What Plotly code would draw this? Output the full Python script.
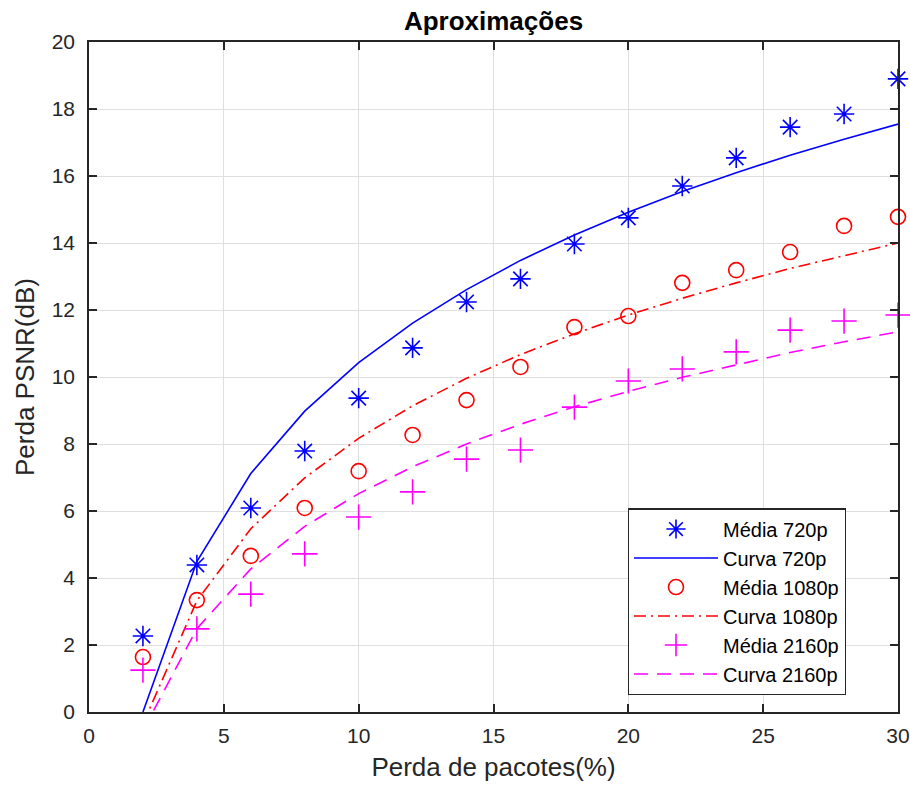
import plotly.graph_objects as go

x_pts = [2, 4, 6, 8, 10, 12, 14, 16, 18, 20, 22, 24, 26, 28, 30]

media_720 = [2.27, 4.39, 6.09, 7.79, 9.37, 10.87, 12.24, 12.93, 13.97, 14.75, 15.70, 16.54, 17.46, 17.85, 18.90]
curva_720 = [0.0, 4.49, 7.12, 8.98, 10.43, 11.61, 12.61, 13.48, 14.24, 14.92, 15.54, 16.10, 16.62, 17.10, 17.55]

media_1080 = [1.64, 3.34, 4.66, 6.09, 7.19, 8.27, 9.31, 10.30, 11.49, 11.82, 12.81, 13.19, 13.73, 14.51, 14.78]
curva_1080 = [-0.36, 3.32, 5.47, 6.99, 8.17, 9.14, 9.96, 10.67, 11.29, 11.85, 12.35, 12.81, 13.24, 13.63, 14.0]

media_2160 = [1.25, 2.48, 3.52, 4.72, 5.82, 6.57, 7.55, 7.82, 9.10, 9.88, 10.24, 10.75, 11.40, 11.67, 11.85]
curva_2160 = [-0.56, 2.49, 4.27, 5.54, 6.52, 7.32, 8.00, 8.59, 9.11, 9.57, 9.99, 10.37, 10.73, 11.05, 11.35]

x_ticks = [0, 5, 10, 15, 20, 25, 30]
y_ticks = [0, 2, 4, 6, 8, 10, 12, 14, 16, 18, 20]

FONT = "Liberation Sans, Arial, sans-serif"
DARK = "#262626"

fig = go.Figure()
fig.add_trace(go.Scatter(x=x_pts, y=media_720, mode="markers", name="Média 720p",
                         marker=dict(symbol="asterisk-open", size=17, color="#0000ff",
                                     line=dict(width=1.6, color="#0000ff")),
                         cliponaxis=False))
fig.add_trace(go.Scatter(x=x_pts, y=curva_720, mode="lines", name="Curva 720p",
                         line=dict(color="#0000ff", width=1.6)))
fig.add_trace(go.Scatter(x=x_pts, y=media_1080, mode="markers", name="Média 1080p",
                         marker=dict(symbol="circle-open", size=15, color="#ff0000",
                                     line=dict(width=1.6, color="#ff0000")),
                         cliponaxis=False))
fig.add_trace(go.Scatter(x=x_pts, y=curva_1080, mode="lines", name="Curva 1080p",
                         line=dict(color="#ff0000", width=1.6, dash="12px,5px,2px,5px")))
fig.add_trace(go.Scatter(x=x_pts, y=media_2160, mode="markers", name="Média 2160p",
                         marker=dict(symbol="cross-thin-open", size=18, color="#ff00ff",
                                     line=dict(width=1.6, color="#ff00ff")),
                         cliponaxis=False))
fig.add_trace(go.Scatter(x=x_pts, y=curva_2160, mode="lines", name="Curva 2160p",
                         line=dict(color="#ff00ff", width=1.6, dash="14px,9px")))

axis_common = dict(showgrid=True, gridcolor="#dfdfdf", gridwidth=1,
                   showline=True, linecolor=DARK, linewidth=1.5, mirror="ticks",
                   ticks="inside", ticklen=8, tickwidth=1.5, tickcolor=DARK,
                   zeroline=False, automargin=False,
                   tickfont=dict(family=FONT, size=21, color=DARK))

fig.update_xaxes(range=[0, 30], tickvals=x_ticks, ticklabelstandoff=4, **axis_common,
                 title=dict(text="Perda de pacotes(%)", standoff=12,
                            font=dict(family=FONT, size=26, color=DARK)))
fig.update_yaxes(range=[0, 20], tickvals=y_ticks, ticklabelstandoff=8, **axis_common,
                 title=dict(text="Perda PSNR(dB)", standoff=10,
                            font=dict(family=FONT, size=26, color=DARK)))

fig.update_layout(
    width=910, height=790,
    margin=dict(l=89, r=12, t=42, b=78),
    paper_bgcolor="white", plot_bgcolor="white",
    title=dict(text="<b>Aproximações</b>", x=(89 + 898) / 2 / 910, xanchor="center",
               y=1 - 21 / 790, yanchor="middle", font=dict(family=FONT, size=26, color="black")),
    legend=dict(x=0.666, y=0.304, xanchor="left", yanchor="top",
                bgcolor="white", bordercolor=DARK, borderwidth=1.2,
                font=dict(family=FONT, size=20, color="black"),
                tracegroupgap=0, itemwidth=84),
    showlegend=True,
)

fig.write_html("out.html")
